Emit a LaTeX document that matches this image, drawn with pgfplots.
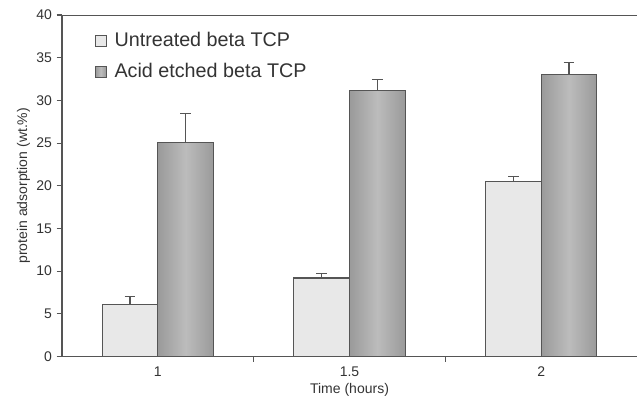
\documentclass[border=0pt]{standalone}
\usepackage{fontspec}
\setmainfont{Liberation Sans}
\usepackage{pgfplots}
\pgfplotsset{compat=1.18}
\definecolor{untreated}{HTML}{E8E8E8}
\definecolor{acidedge}{HTML}{9A9A9A}
\definecolor{acidmid}{HTML}{BCBCBC}
\definecolor{axgray}{HTML}{555555}

\begin{document}
\begin{tikzpicture}
\begin{axis}[
    scale only axis,
    width=431pt, height=256pt,
    xmin=-0.5, xmax=2.5,
    ymin=0, ymax=40,
    ybar=0pt,
    bar width=0.29,
    axis x line*=bottom,
    axis y line*=left,
    axis line style={axgray, line width=0.9pt},
    xtick={0,1,2},
    xticklabels={1,1.5,2},
    major x tick style={draw=none},
    minor xtick={0.5,1.5},
    minor x tick style={axgray, line width=0.8pt},
    minor tick length=4pt,
    ytick={0,5,...,40},
    y tick style={axgray, line width=0.8pt},
    major tick length=4pt,
    tick align=outside,
    ticklabel style={font=\fontsize{10.5}{12}\selectfont, text=black!80},
    /pgf/number format/assume math mode=true,
    xlabel={Time (hours)},
    ylabel={protein adsorption (wt.\%)},
    xlabel style={font=\fontsize{10.5}{12}\selectfont, text=black!80, yshift=2pt},
    ylabel style={font=\fontsize{10.5}{12}\selectfont, text=black!80, yshift=-2pt},
    legend style={at={(rel axis cs:0.05,0.965)}, anchor=north west, draw=none, fill=none,
        font=\fontsize{14.8}{17}\selectfont, text=black!80, row sep=7pt},
    legend cell align=left,
    legend image code/.code={\draw[#1, draw=axgray, line width=0.6pt] (0pt,-4pt) rectangle (8pt,4pt);},
    error bars/y dir=plus,
    error bars/y explicit,
    error bars/error bar style={axgray, line width=0.9pt},
    error bars/error mark options={rotate=90, mark size=4pt, axgray, line width=0.9pt},
]
% untreated beta TCP
\addplot[bar shift=-0.145, draw=axgray, line width=0.8pt, fill=untreated] coordinates {
    (0,6.1) +- (0,0.9)
    (1,9.2) +- (0,0.5)
    (2,20.5) +- (0,0.6)
};
% acid etched beta TCP, one plot per bar so each bar gets its own shading
\addplot[bar shift=0.145, draw=axgray, line width=0.8pt, left color=acidedge, right color=acidedge, middle color=acidmid] coordinates {
    (0,25.1) +- (0,3.4)
};
\addplot[forget plot, bar shift=0.145, draw=axgray, line width=0.8pt, left color=acidedge, right color=acidedge, middle color=acidmid] coordinates {
    (1,31.2) +- (0,1.2)
};
\addplot[forget plot, bar shift=0.145, draw=axgray, line width=0.8pt, left color=acidedge, right color=acidedge, middle color=acidmid] coordinates {
    (2,33.0) +- (0,1.4)
};
\legend{\hspace{4pt}Untreated beta TCP, \hspace{4pt}Acid etched beta TCP}
\draw[axgray, line width=0.9pt] (rel axis cs:0,1) -- (rel axis cs:1,1);
\end{axis}
\pgfresetboundingbox
\path[use as bounding box] ([xshift=-46.5pt,yshift=-33.75pt]current axis.south west) rectangle ([yshift=11.25pt]current axis.north east);
\end{tikzpicture}
\end{document}
